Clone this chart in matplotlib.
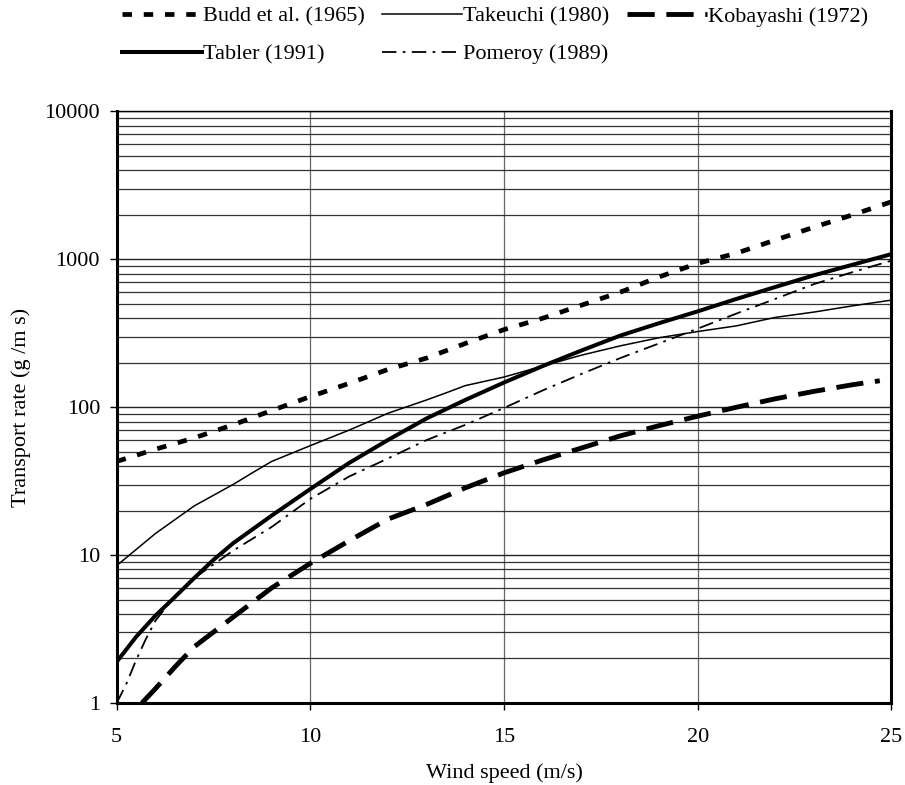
import numpy as np
import matplotlib
matplotlib.use("Agg")
import matplotlib.pyplot as plt
from matplotlib.ticker import LogLocator, NullFormatter, FixedLocator

plt.rcParams['font.family'] = ['Liberation Serif', 'DejaVu Serif']
plt.rcParams['font.size'] = 16

# wind speed (m/s) / transport rate (g/m s)
budd_x = [5, 6, 7, 8, 9, 10, 11, 12, 13, 14, 15, 16, 17, 18, 19, 20, 21, 22, 23, 24, 25]
budd_y = [43, 52, 62, 76, 95, 118, 145, 180, 215, 270, 335, 400, 490, 600, 760, 940, 1100, 1350, 1650, 2000, 2450]

takeuchi_x = [5, 6, 7, 8, 8.5, 9, 10, 11, 12, 13, 13.5, 14, 15, 16, 17, 18, 19, 20, 21, 22, 23, 24, 25]
takeuchi_y = [8.5, 14, 21.5, 30, 36, 43, 55, 70, 91, 112, 125, 140, 160, 190, 225, 260, 295, 325, 355, 405, 440, 485, 530]

kobayashi_x = [5.65, 6, 6.5, 7, 8, 9, 10, 11, 12, 13, 14, 15, 16, 17, 18, 19, 20, 21, 22, 23, 24, 24.7]
kobayashi_y = [1.0, 1.25, 1.75, 2.4, 3.8, 6.0, 8.8, 12.5, 17.5, 22, 28.5, 36, 44, 53, 64, 75, 87, 100, 114, 128, 142, 151]

tabler_x = [5, 5.5, 6, 6.5, 7, 7.5, 8, 9, 10, 11, 12, 13, 14, 15, 16, 17, 18, 19, 20, 21, 22, 23, 24, 25]
tabler_y = [1.9, 2.8, 3.9, 5.2, 7.0, 9.3, 12, 18.5, 28, 42, 60, 84, 112, 147, 190, 242, 305, 370, 445, 540, 650, 780, 920, 1085]

pomeroy_x = [5, 5.25, 5.5, 5.75, 6, 6.5, 7, 8, 9, 10, 11, 12, 13, 14, 15, 16, 17, 18, 19, 20, 21, 22, 23, 24, 25]
pomeroy_y = [1.0, 1.35, 1.95, 2.7, 3.6, 5.3, 7.0, 10.7, 15.5, 24, 34, 45, 60, 76, 99, 130, 168, 215, 270, 340, 430, 540, 680, 820, 980]

fig = plt.figure(figsize=(9.05, 7.85), dpi=100)
ax = fig.add_axes([0.129, 0.1045, 0.856, 0.7535])

l_budd, = ax.plot(budd_x, budd_y, color='k', lw=3.4, linestyle=(0, (2.0, 2.5)))
l_tak, = ax.plot(takeuchi_x, takeuchi_y, color='k', lw=1.1)
l_kob, = ax.plot(kobayashi_x, kobayashi_y, color='k', lw=3.5, linestyle=(0, (5.6, 2.4)))
l_tab, = ax.plot(tabler_x, tabler_y, color='k', lw=2.9)
l_pom, = ax.plot(pomeroy_x, pomeroy_y, color='k', lw=1.3, linestyle=(0, (8, 3.5, 1.5, 3.5)))

ax.set_yscale('log')
ax.set_xlim(5, 25)
ax.set_ylim(1, 10000)
ax.xaxis.set_major_locator(FixedLocator([5, 10, 15, 20, 25]))
ax.yaxis.set_minor_locator(LogLocator(base=10, subs=np.arange(2, 10), numticks=20))
ax.yaxis.set_minor_formatter(NullFormatter())
ax.set_yticks([1, 10, 100, 1000, 10000])
ax.set_yticklabels(['1', '10', '100', '1000', '10000'])

ax.grid(True, which='major', axis='y', color='#222222', lw=1.0)
ax.grid(True, which='minor', axis='y', color='#333333', lw=0.9)
ax.grid(True, which='major', axis='x', color='#666666', lw=0.9)
ax.tick_params(axis='both', which='major', direction='out', length=5, width=1, labelsize=16)
ax.tick_params(axis='x', pad=13)
ax.tick_params(axis='y', pad=7)
ax.tick_params(axis='y', which='minor', length=0)

for s in ['left', 'bottom', 'right']:
    ax.spines[s].set_linewidth(2.2)
ax.spines['top'].set_linewidth(1.0)

ax.set_xlabel('Wind speed (m/s)', fontsize=16, labelpad=12)
ax.set_ylabel('Transport rate (g /m s)', fontsize=16, labelpad=10)

fig.legend([l_budd, l_tab, l_tak, l_pom, l_kob],
           ['Budd et al. (1965)', 'Tabler (1991)', 'Takeuchi (1980)', 'Pomeroy (1989)', 'Kobayashi (1972)'],
           ncol=3, loc='upper left', bbox_to_anchor=(122 / 905, 1 - 6 / 785), frameon=False,
           borderpad=0, borderaxespad=0,
           handlelength=3.6, handletextpad=0.05, columnspacing=0.78, labelspacing=0.78,
           fontsize=16)

fig.savefig('out.png', dpi=100)
